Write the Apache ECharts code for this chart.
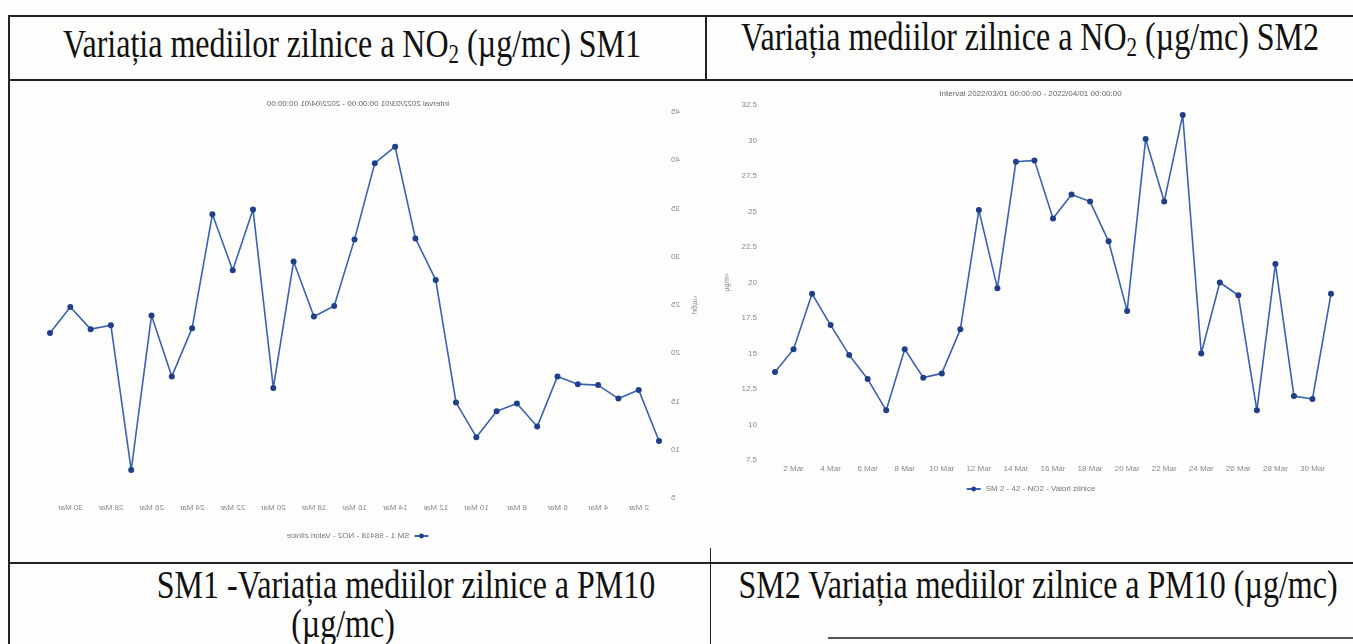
<!DOCTYPE html>
<html>
<head>
<meta charset="utf-8">
<script src="https://cdn.jsdelivr.net/npm/echarts@6/dist/echarts.min.js"></script>
<style>
  html, body { margin: 0; padding: 0; background: #fdfdfc; }
  body { width: 1353px; height: 644px; position: relative; overflow: hidden; font-family: "Liberation Serif", "DejaVu Serif", serif; }
  .hl { position: absolute; height: 2px; background: #222; }
  .vl { position: absolute; width: 2px; background: #222; }
  .t { position: absolute; font-size: 32px; color: #111; white-space: nowrap; line-height: 1; transform-origin: 50% 0; transform: translateX(-50%) scaleY(1.25); }
  .t sub { font-size: 21px; vertical-align: -5px; line-height: 0; }
  #c1 { position: absolute; left: 10px; top: 82px; width: 696px; height: 481px; transform: scaleX(-1); }
  #c2 { position: absolute; left: 708px; top: 82px; width: 645px; height: 481px; }
</style>
</head>
<body>
<div class="hl" style="left:8px; top:15px; width:1345px;"></div>
<div class="hl" style="left:8px; top:79px; width:1345px;"></div>
<div class="hl" style="left:8px; top:562px; width:1345px;"></div>
<div class="hl" style="left:828px; top:637px; width:525px; background:#555;"></div>
<div class="vl" style="left:8px; top:15px; height:629px;"></div>
<div class="vl" style="left:705px; top:15px; height:66px;"></div>
<div class="vl" style="left:710px; top:548px; height:96px; width:1px;"></div>

<div class="t" style="left:352px; top:23px;">Variația mediilor zilnice a NO<sub>2</sub> (µg/mc) SM1</div>
<div class="t" style="left:1030px; top:16px;">Variația mediilor zilnice a NO<sub>2</sub> (µg/mc) SM2</div>
<div class="t" style="left:406px; top:564px;">SM1 -Variația mediilor zilnice a PM10</div>
<div class="t" style="left:343px; top:603px;">(µg/mc)</div>
<div class="t" style="left:1038px; top:564px;">SM2 Variația mediilor zilnice a PM10 (µg/mc)</div>

<div id="c1"></div>
<div id="c2"></div>

<script>
// Categories: days of March 2022
const days = ["1 Mar","2 Mar","3 Mar","4 Mar","5 Mar","6 Mar","7 Mar","8 Mar","9 Mar","10 Mar",
  "11 Mar","12 Mar","13 Mar","14 Mar","15 Mar","16 Mar","17 Mar","18 Mar","19 Mar","20 Mar",
  "21 Mar","22 Mar","23 Mar","24 Mar","25 Mar","26 Mar","27 Mar","28 Mar","29 Mar","30 Mar","31 Mar"];

// SM1 NO2 daily means (µg/m³)
const sm1No2 = [10.9, 16.2, 15.3, 16.7, 16.8, 17.6, 12.4, 14.8, 14.0, 11.3,
  14.9, 27.6, 31.9, 41.4, 39.7, 31.8, 24.9, 23.8, 29.5, 16.4,
  34.9, 28.6, 34.4, 22.6, 17.6, 23.9, 7.9, 22.9, 22.5, 24.8, 22.1];

// SM2 NO2 daily means (µg/m³)
const sm2No2 = [13.7, 15.3, 19.2, 17.0, 14.9, 13.2, 11.0, 15.3, 13.3, 13.6,
  16.7, 25.1, 19.6, 28.5, 28.6, 24.5, 26.2, 25.7, 22.9, 18.0,
  30.1, 25.7, 31.8, 15.0, 20.0, 19.1, 11.0, 21.3, 12.0, 11.8, 19.2];

// Y-axis ranges
const sm1Axis = { min: 5, max: 45, interval: 5 };
const sm2Axis = { min: 7.5, max: 32.5, interval: 2.5 };

const chartTitle = "Interval 2022/03/01 00:00:00 - 2022/04/01 00:00:00";
const sm1Name = "SM 1 - 98418 - NO2 - Valori zilnice";
const sm2Name = "SM 2 - 42 - NO2 - Valori zilnice";
const unit = "µg/m³";

const font = "Liberation Sans";
const lblColor = "#8a8a8a";

function makeOption(name, data, ax, grid, titleTop, legendTop, nameGap, labelMargin, xMargin) {
  return {
    animation: false,
    title: { text: chartTitle, left: 'center', top: titleTop,
      textStyle: { fontSize: 8, fontWeight: 'normal', color: '#666', fontFamily: font } },
    legend: { top: legendTop, left: 'center', itemWidth: 14, itemHeight: 6,
      textStyle: { fontSize: 8, color: '#777', fontFamily: font } },
    grid: grid,
    xAxis: {
      type: 'category', data: days, boundaryGap: false,
      axisLine: { show: false }, axisTick: { show: false },
      axisLabel: { interval: (i) => i % 2 === 1, fontSize: 8, color: lblColor, fontFamily: font, margin: xMargin },
      splitLine: { show: false }
    },
    yAxis: {
      type: 'value', min: ax.min, max: ax.max, interval: ax.interval,
      name: unit, nameLocation: 'middle', nameGap: nameGap, nameRotate: 90,
      nameTextStyle: { fontSize: 7, color: '#888', fontFamily: font },
      axisLine: { show: false }, axisTick: { show: false },
      axisLabel: { fontSize: 8, color: lblColor, fontFamily: font, margin: labelMargin },
      splitLine: { show: false }
    },
    series: [{
      name: name, type: 'line', data: data,
      symbol: 'circle', symbolSize: 6,
      lineStyle: { color: '#3a62b3', width: 1.6 },
      itemStyle: { color: '#1f3f8a' }
    }]
  };
}

const c1 = echarts.init(document.getElementById('c1'), null, { renderer: 'canvas' });
c1.setOption(makeOption(sm1Name, sm1No2, sm1Axis,
  { left: 40, right: 40, top: 30, bottom: 65 }, 13, 445, 32, 12, 6));

const c2 = echarts.init(document.getElementById('c2'), null, { renderer: 'canvas' });
c2.setOption(makeOption(sm2Name, sm2No2, sm2Axis,
  { left: 67, right: 22, top: 23, bottom: 103 }, 3, 398, 35, 18, 5));
</script>
</body>
</html>
